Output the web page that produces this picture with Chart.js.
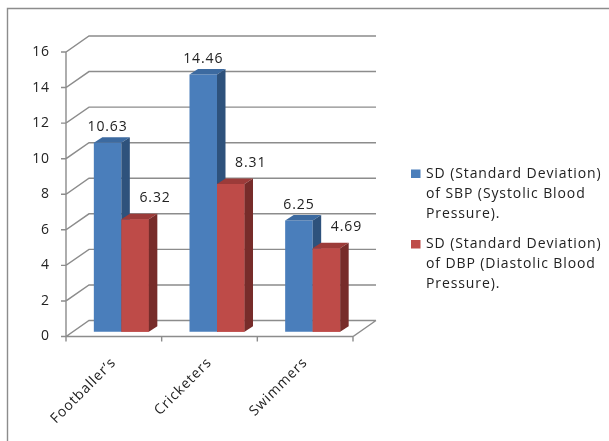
<!DOCTYPE html>
<html>
<head>
<meta charset="utf-8">
<script src="https://cdn.jsdelivr.net/npm/chart.js@4.4.1/dist/chart.umd.min.js"></script>
<style>
  html, body { margin: 0; padding: 0; background: #ffffff; }
  #wrap { width: 609px; height: 441px; position: relative; }
</style>
</head>
<body>
<div id="wrap"><canvas id="chart" width="609" height="441"></canvas></div>
<script>
// Groups and the standard deviation of blood pressure per group
const categories = ['Footballer\u2019s', 'Cricketers', 'Swimmers'];
const sbpSD = [10.63, 14.46, 6.25];
const dbpSD = [6.32, 8.31, 4.69];
const sbpLegend = ['SD (Standard Deviation)', 'of SBP (Systolic Blood', 'Pressure).'];
const dbpLegend = ['SD (Standard Deviation)', 'of DBP (Diastolic Blood', 'Pressure).'];
const yMin = 0, yMax = 16, yStep = 2;

const FONT = '"Open Sans", "DejaVu Sans", sans-serif';
const SPACING = '0.9px';
const TEXT = '#222222';
const LINE = '#8c8c8c';

// 3-D look: back wall offset, bar placement inside the box, bar depth
const WALL = { dx: 23, dy: -16 };
const BAR_SHIFT = { dx: 7.5, dy: -4.8 };
const BAR_DEPTH = { dx: 8.5, dy: -5.5 };

const seriesStyle = [
  { front: '#4a7ebb', top: '#3c6aa0', side: '#2e527c', labelDx: 0, labelDy: -16 },
  { front: '#be4b48', top: '#9c3b39', side: '#772c2a', labelDx: 20, labelDy: -21 }
];

function drawFront(ctx, b, color) {
  ctx.fillStyle = color;
  ctx.fillRect(b.x - b.width / 2, b.y, b.width, b.base - b.y);
}

function drawFaces(ctx, b, st) {
  const l = b.x - b.width / 2, r = b.x + b.width / 2, t = b.y, bot = b.base;
  const { dx, dy } = BAR_DEPTH;
  ctx.fillStyle = st.top;
  ctx.beginPath();
  ctx.moveTo(l, t); ctx.lineTo(l + dx, t + dy); ctx.lineTo(r + dx, t + dy); ctx.lineTo(r, t);
  ctx.closePath(); ctx.fill();
  ctx.fillStyle = st.side;
  ctx.beginPath();
  ctx.moveTo(r, t); ctx.lineTo(r + dx, t + dy); ctx.lineTo(r + dx, bot + dy); ctx.lineTo(r, bot);
  ctx.closePath(); ctx.fill();
}

const box3d = {
  id: 'box3d',
  beforeUpdate(chart) { chart.ctx.letterSpacing = SPACING; },
  beforeDraw(chart) { chart.ctx.letterSpacing = SPACING; },
  beforeDatasetsDraw(chart) {
    const { ctx, chartArea: a, scales: { x, y } } = chart;
    ctx.save();
    ctx.strokeStyle = LINE;
    ctx.lineWidth = 1.4;
    // outer frame
    ctx.beginPath();
    ctx.moveTo(7.5, 441); ctx.lineTo(7.5, 8.5); ctx.lineTo(609, 8.5);
    ctx.stroke();
    ctx.beginPath();
    // y ticks, side wall diagonals and back wall gridlines
    y.ticks.forEach(t => {
      const py = y.getPixelForValue(t.value);
      ctx.moveTo(a.left - 5, py);
      ctx.lineTo(a.left, py);
      ctx.lineTo(a.left + WALL.dx, py + WALL.dy);
      ctx.lineTo(a.right + WALL.dx, py + WALL.dy);
    });
    // front vertical axis
    ctx.moveTo(a.left, a.top); ctx.lineTo(a.left, a.bottom);
    // floor front and right edges
    ctx.moveTo(a.left, a.bottom); ctx.lineTo(a.right, a.bottom);
    ctx.lineTo(a.right + WALL.dx, a.bottom + WALL.dy);
    // category separators
    for (let i = 0; i <= categories.length; i++) {
      const px = x.getPixelForValue(i - 0.5);
      ctx.moveTo(px, a.bottom); ctx.lineTo(px, a.bottom + 5);
    }
    ctx.stroke();
    ctx.restore();
    // bars sit inside the box
    ctx.save();
    ctx.translate(BAR_SHIFT.dx, BAR_SHIFT.dy);
  },
  afterDatasetsDraw(chart) {
    const { ctx } = chart;
    const m0 = chart.getDatasetMeta(0).data;
    const m1 = chart.getDatasetMeta(1).data;
    m0.forEach((b0, i) => {
      const b1 = m1[i];
      drawFaces(ctx, b0, seriesStyle[0]);
      drawFront(ctx, b1, seriesStyle[1].front);
      drawFaces(ctx, b1, seriesStyle[1]);
    });
    ctx.restore();

    // value labels
    ctx.save();
    ctx.letterSpacing = SPACING;
    ctx.font = '14px ' + FONT;
    ctx.fillStyle = TEXT;
    ctx.textAlign = 'center';
    ctx.textBaseline = 'middle';
    chart.data.datasets.forEach((ds, di) => {
      const st = seriesStyle[di];
      chart.getDatasetMeta(di).data.forEach((b, i) => {
        ctx.fillText(ds.data[i].toFixed(2),
          b.x + BAR_SHIFT.dx + st.labelDx,
          b.y + BAR_SHIFT.dy + st.labelDy);
      });
    });
    ctx.restore();
  },
  afterDraw(chart) {
    const { ctx } = chart;
    ctx.save();
    ctx.letterSpacing = SPACING;
    ctx.font = '14px ' + FONT;
    ctx.fillStyle = TEXT;
    ctx.textBaseline = 'middle';
    const items = [
      { lines: sbpLegend, color: seriesStyle[0].front, top: 174 },
      { lines: dbpLegend, color: seriesStyle[1].front, top: 244.5 }
    ];
    items.forEach(it => {
      ctx.fillStyle = it.color;
      ctx.fillRect(411, it.top - 4.5, 9.5, 8.5);
      ctx.fillStyle = TEXT;
      it.lines.forEach((ln, k) => ctx.fillText(ln, 426, it.top + k * 20));
    });
    ctx.restore();
  }
};

new Chart(document.getElementById('chart'), {
  type: 'bar',
  data: {
    labels: categories,
    datasets: [
      { label: sbpLegend.join(' '), data: sbpSD, backgroundColor: seriesStyle[0].front, borderWidth: 0 },
      { label: dbpLegend.join(' '), data: dbpSD, backgroundColor: seriesStyle[1].front, borderWidth: 0 }
    ]
  },
  options: {
    responsive: false,
    animation: false,
    events: [],
    clip: false,
    categoryPercentage: 0.575,
    barPercentage: 1,
    layout: { padding: { top: 52, right: 256, bottom: 0, left: 0 } },
    plugins: { legend: { display: false }, tooltip: { enabled: false } },
    scales: {
      x: {
        grid: { display: false, drawTicks: false },
        border: { display: false },
        ticks: {
          color: TEXT,
          font: { family: FONT, size: 14 },
          minRotation: 45,
          maxRotation: 45,
          padding: 18
        },
        afterFit(s) { s.height = 104.5; }
      },
      y: {
        min: yMin,
        max: yMax,
        grid: { display: false, drawTicks: false },
        border: { display: false },
        ticks: {
          stepSize: yStep,
          color: TEXT,
          font: { family: FONT, size: 14 },
          padding: 16
        },
        afterFit(s) { s.width = 66; }
      }
    }
  },
  plugins: [box3d]
});
</script>
</body>
</html>
